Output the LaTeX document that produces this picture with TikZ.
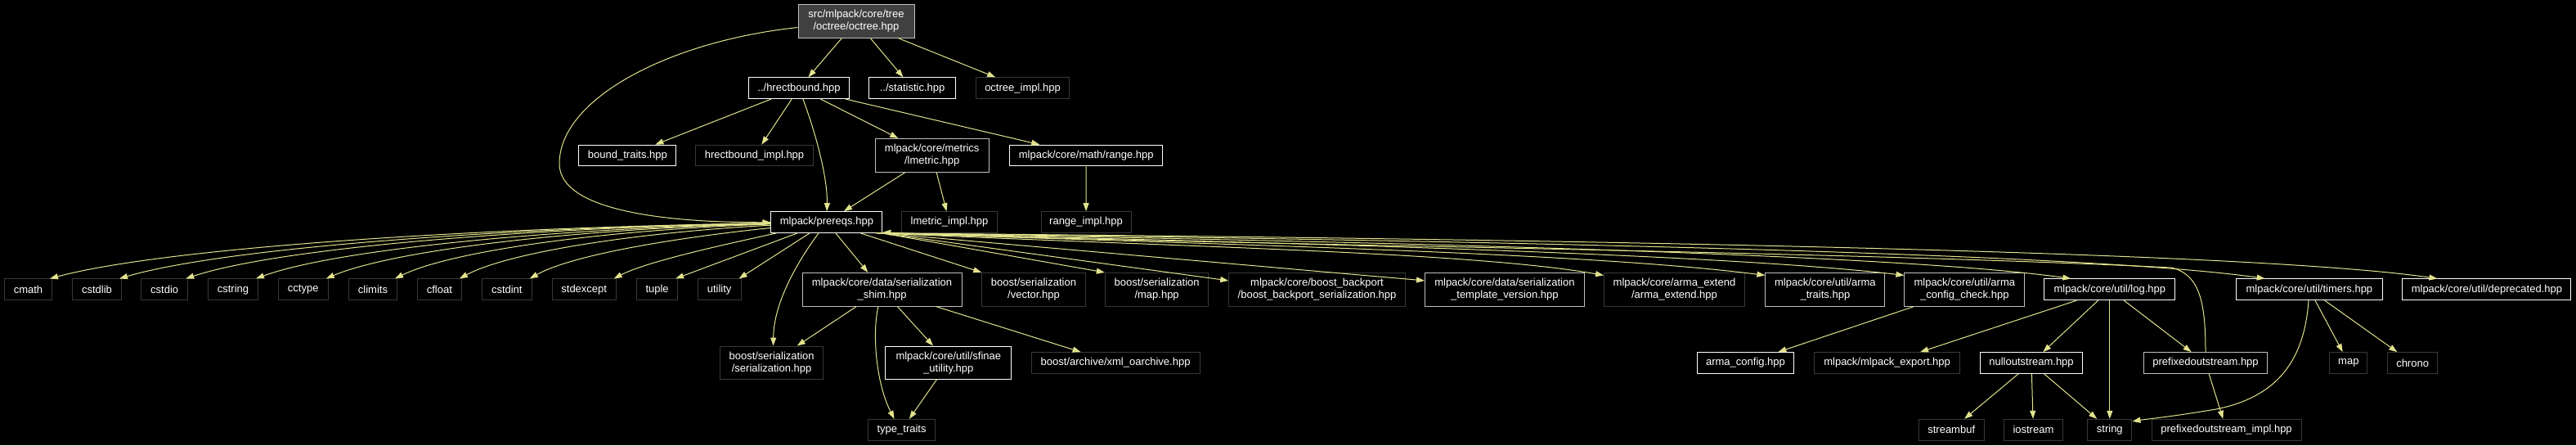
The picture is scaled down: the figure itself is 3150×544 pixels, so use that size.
\documentclass[tikz,border=0pt]{standalone}
\usepackage{fontspec}
\setmainfont{Liberation Sans}
\usetikzlibrary{arrows.meta}
\definecolor{edgecol}{HTML}{E2E28E}
\definecolor{dimb}{HTML}{383838}
\definecolor{grayb}{HTML}{BFBFBF}
\definecolor{rootfill}{HTML}{404040}
\tikzset{
  nd/.style={draw, line width=1pt, text=white, fill=black, inner sep=0pt, align=center,
    font=\fontsize{13}{15}\selectfont, minimum height=25.7pt},
  two/.style={minimum height=40.8pt},
  wd/.style={minimum width=#1},
  wb/.style={nd, draw=white},
  gb/.style={nd, draw=grayb},
  db/.style={nd, draw=dimb},
  edge/.style={draw=edgecol, line width=1pt, -{Triangle[length=10pt,width=7pt,fill=edgecol]}},
}
\begin{document}
\begin{tikzpicture}[x=1pt,y=-1pt]
\fill[black] (0,0) rectangle (3150,544);
\useasboundingbox (0,0) rectangle (3150,544);
% top levels
\node[gb, two, fill=rootfill, wd=142pt, minimum height=40.5pt] (root) at (1047,26) {src/mlpack/core/tree\\/octree/octree.hpp};
\node[wb, wd=123pt] (hrect) at (977,107.7) {../hrectbound.hpp};
\node[wb, wd=106pt] (stat) at (1115.6,107.7) {../statistic.hpp};
\node[db, wd=114.5pt] (octimpl) at (1250.5,107.7) {octree\_impl.hpp};
\node[wb, wd=119pt] (bt) at (767.4,190) {bound\_traits.hpp};
\node[db, wd=144pt] (hbi) at (922.5,190) {hrectbound\_impl.hpp};
\node[gb, two, wd=139.4pt] (lmetric) at (1139.7,189.8) {mlpack/core/metrics\\/lmetric.hpp};
\node[wb, wd=187pt] (range) at (1328.2,190) {mlpack/core/math/range.hpp};
\node[wb, wd=136pt] (prereqs) at (1010.9,271.5) {mlpack/prereqs.hpp};
\node[db, wd=116.5pt] (lmi) at (1161,271.5) {lmetric\_impl.hpp};
\node[db, wd=110pt] (ri) at (1328,271.5) {range\_impl.hpp};
% row 4
\node[db, wd=58pt] (cmath) at (34.5,353.8) {cmath};
\node[db, wd=60pt] (cstdlib) at (118.5,353.8) {cstdlib};
\node[db, wd=57pt] (cstdio) at (201.2,353.8) {cstdio};
\node[db, wd=61pt] (cstring) at (285,353.8) {cstring};
\node[db, wd=61pt] (cctype) at (370.7,353.8) {cctype};
\node[db, wd=59pt] (climits) at (456,353.8) {climits};
\node[db, wd=54pt] (cfloat) at (537.4,353.8) {cfloat};
\node[db, wd=61pt] (cstdint) at (619.8,353.8) {cstdint};
\node[db, wd=78pt] (stdexcept) at (714.2,353.8) {stdexcept};
\node[db, wd=50pt] (tuple) at (803.6,353.8) {tuple};
\node[db, wd=53pt] (utility) at (879.6,353.8) {utility};
\node[gb, two, wd=195pt] (shim) at (1078.5,353.8) {mlpack/core/data/serialization\\\_shim.hpp};
\node[db, two, wd=126.5pt] (vector) at (1264,353.8) {boost/serialization\\/vector.hpp};
\node[db, two, wd=126.6pt] (mapb) at (1414.6,353.8) {boost/serialization\\/map.hpp};
\node[db, two, wd=215.6pt] (bb) at (1610.5,353.8) {mlpack/core/boost\_backport\\/boost\_backport\_serialization.hpp};
\node[gb, two, wd=194.8pt] (tv) at (1839.9,353.8) {mlpack/core/data/serialization\\\_template\_version.hpp};
\node[db, two, wd=172pt] (ae) at (2047.5,353.8) {mlpack/core/arma\_extend\\/arma\_extend.hpp};
\node[gb, two, wd=146pt] (at) at (2231.9,353.8) {mlpack/core/util/arma\\\_traits.hpp};
\node[gb, two, wd=146.7pt] (acc) at (2402.3,353.8) {mlpack/core/util/arma\\\_config\_check.hpp};
\node[wb, wd=160pt] (log) at (2579.8,353.8) {mlpack/core/util/log.hpp};
\node[wb, wd=179.4pt] (timers) at (2823.9,353.8) {mlpack/core/util/timers.hpp};
\node[wb, wd=206pt] (dep) at (3040.9,353.8) {mlpack/core/util/deprecated.hpp};
% row 5
\node[db, two, wd=126pt, minimum height=40.3pt] (ser) at (943.6,443.2) {boost/serialization\\/serialization.hpp};
\node[wb, two, wd=154pt, minimum height=40.3pt] (sfinae) at (1159.8,443.2) {mlpack/core/util/sfinae\\\_utility.hpp};
\node[db, wd=206pt] (xml) at (1364.1,443.5) {boost/archive/xml\_oarchive.hpp};
\node[wb, wd=118.5pt] (ac) at (2134.5,443.5) {arma\_config.hpp};
\node[db, wd=178pt] (mexp) at (2307.6,443.5) {mlpack/mlpack\_export.hpp};
\node[wb, wd=125.3pt] (null) at (2484,443.5) {nulloutstream.hpp};
\node[gb, wd=150.7pt] (pfx) at (2697,443.5) {prefixedoutstream.hpp};
\node[db, wd=46pt] (mapstd) at (2871.8,443.5) {map};
\node[db, wd=61pt] (chrono) at (2950.1,443.5) {chrono};
% row 6
\node[db, wd=82.4pt] (tt) at (1102.6,525.2) {type\_traits};
\node[db, wd=79.7pt] (sb) at (2386.2,525.2) {streambuf};
\node[db, wd=72.4pt] (ios) at (2486.4,525.2) {iostream};
\node[db, wd=54.2pt] (str) at (2579.8,525.2) {string};
\node[db, wd=183pt] (pfi) at (2722.5,525.2) {prefixedoutstream\_impl.hpp};
% edges from root
\draw[edge] (root) -- (hrect);
\draw[edge] (root) -- (stat);
\draw[edge] (root) -- (octimpl);
\draw[edge] (root) .. controls (820,50) and (684,120) .. (684,200) .. controls (684,265) and (850,272) .. (prereqs);
% hrectbound
\draw[edge] (hrect) -- (bt);
\draw[edge] (hrect) -- (hbi);
\draw[edge] (hrect) .. controls (1000,170) and (1012,220) .. (prereqs);
\draw[edge] (hrect) -- (lmetric);
\draw[edge] (hrect) -- (range);
\draw[edge] (lmetric) -- (prereqs);
\draw[edge] (lmetric) -- (lmi);
\draw[edge] (range) -- (ri);
% prereqs left fan
\draw[edge] (prereqs) .. controls (546,279) and (193,305) .. ([xshift=-3pt]cmath.north east);
\draw[edge] (prereqs) .. controls (584,279) and (266,305) .. ([xshift=-3pt]cstdlib.north east);
\draw[edge] (prereqs) .. controls (621,279) and (334,305) .. ([xshift=-3pt]cstdio.north east);
\draw[edge] (prereqs) .. controls (659,280) and (407,306) .. ([xshift=-3pt]cstring.north east);
\draw[edge] (prereqs) .. controls (698,280) and (480,306) .. ([xshift=-3pt]cctype.north east);
\draw[edge] (prereqs) .. controls (736,281) and (551,307) .. ([xshift=-3pt]climits.north east);
\draw[edge] (prereqs) .. controls (780,284) and (622,308) .. ([xshift=-3pt]cfloat.north east);
\draw[edge] (prereqs) .. controls (830,290) and (700,311) .. ([xshift=-3pt]cstdint.north east);
\draw[edge] (prereqs) .. controls (880,300) and (790,320) .. ([xshift=-3pt]stdexcept.north east);
\draw[edge] (prereqs) -- ([xshift=-3pt]tuple.north east);
\draw[edge] (prereqs) -- ([xshift=-3pt]utility.north east);
% prereqs down / right
\draw[edge] (prereqs) .. controls (975,320) and (946,370) .. ([xshift=2pt]ser.north);
\draw[edge] (prereqs) -- (shim);
\draw[edge] (prereqs) -- (vector.north west);
\draw[edge] ([xshift=-1pt]prereqs.south east) -- (mapb.north west);
\draw[edge] ([xshift=-2pt]prereqs.south east) -- ([yshift=-10pt]bb.north west);
\draw[edge] ([xshift=-3pt]prereqs.south east) -- ([yshift=-10pt]tv.north west);
\draw[edge] ([xshift=-4pt]prereqs.south east) .. controls (1450,302) and (1800,308) .. ([yshift=-3.5pt]ae.north west);
\draw[edge] ([xshift=-5pt]prereqs.south east) .. controls (1550,300) and (1950,310) .. ([yshift=-3.5pt]at.north west);
\draw[edge] ([xshift=-6pt]prereqs.south east) .. controls (1650,298) and (2120,312) .. ([yshift=-3.5pt]acc.north west);
\draw[edge] ([xshift=-7pt]prereqs.south east) .. controls (1750,296) and (2330,312) .. ([xshift=33pt]log.north west);
\draw[edge] ([xshift=-8pt]prereqs.south east) .. controls (1850,294) and (2560,310) .. ([xshift=36pt]timers.north west);
\draw[edge] ([xshift=-9pt]prereqs.south east) .. controls (1950,292) and (2760,308) .. ([xshift=43pt]dep.north west);
\draw[edge] (pfx) .. controls (2697,370) and (2690,335) .. (2655,327) .. controls (2200,305) and (1400,298) .. ([yshift=1pt]prereqs.south east);
% shim
\draw[edge] (shim) -- (ser);
\draw[edge] (shim) .. controls (1066,410) and (1072,470) .. ([xshift=-9pt]tt.north);
\draw[edge] (shim) -- (sfinae);
\draw[edge] (shim) -- (xml);
\draw[edge] (sfinae) -- (tt);
% util
\draw[edge] (acc) -- (ac);
\draw[edge] (log) -- (mexp);
\draw[edge] (log) -- (null);
\draw[edge] (log) -- (str);
\draw[edge] (log) -- (pfx);
\draw[edge] (null) -- (sb);
\draw[edge] (null) -- (ios);
\draw[edge] (null) -- (str);
\draw[edge] (pfx) -- (pfi);
\draw[edge] (timers) .. controls (2818,440) and (2785,485) .. (2710,500) .. controls (2650,510) and (2625,512) .. ([yshift=-3pt]str.north east);
\draw[edge] (timers) -- (mapstd);
\draw[edge] (timers) -- (chrono);
\end{tikzpicture}
\end{document}
